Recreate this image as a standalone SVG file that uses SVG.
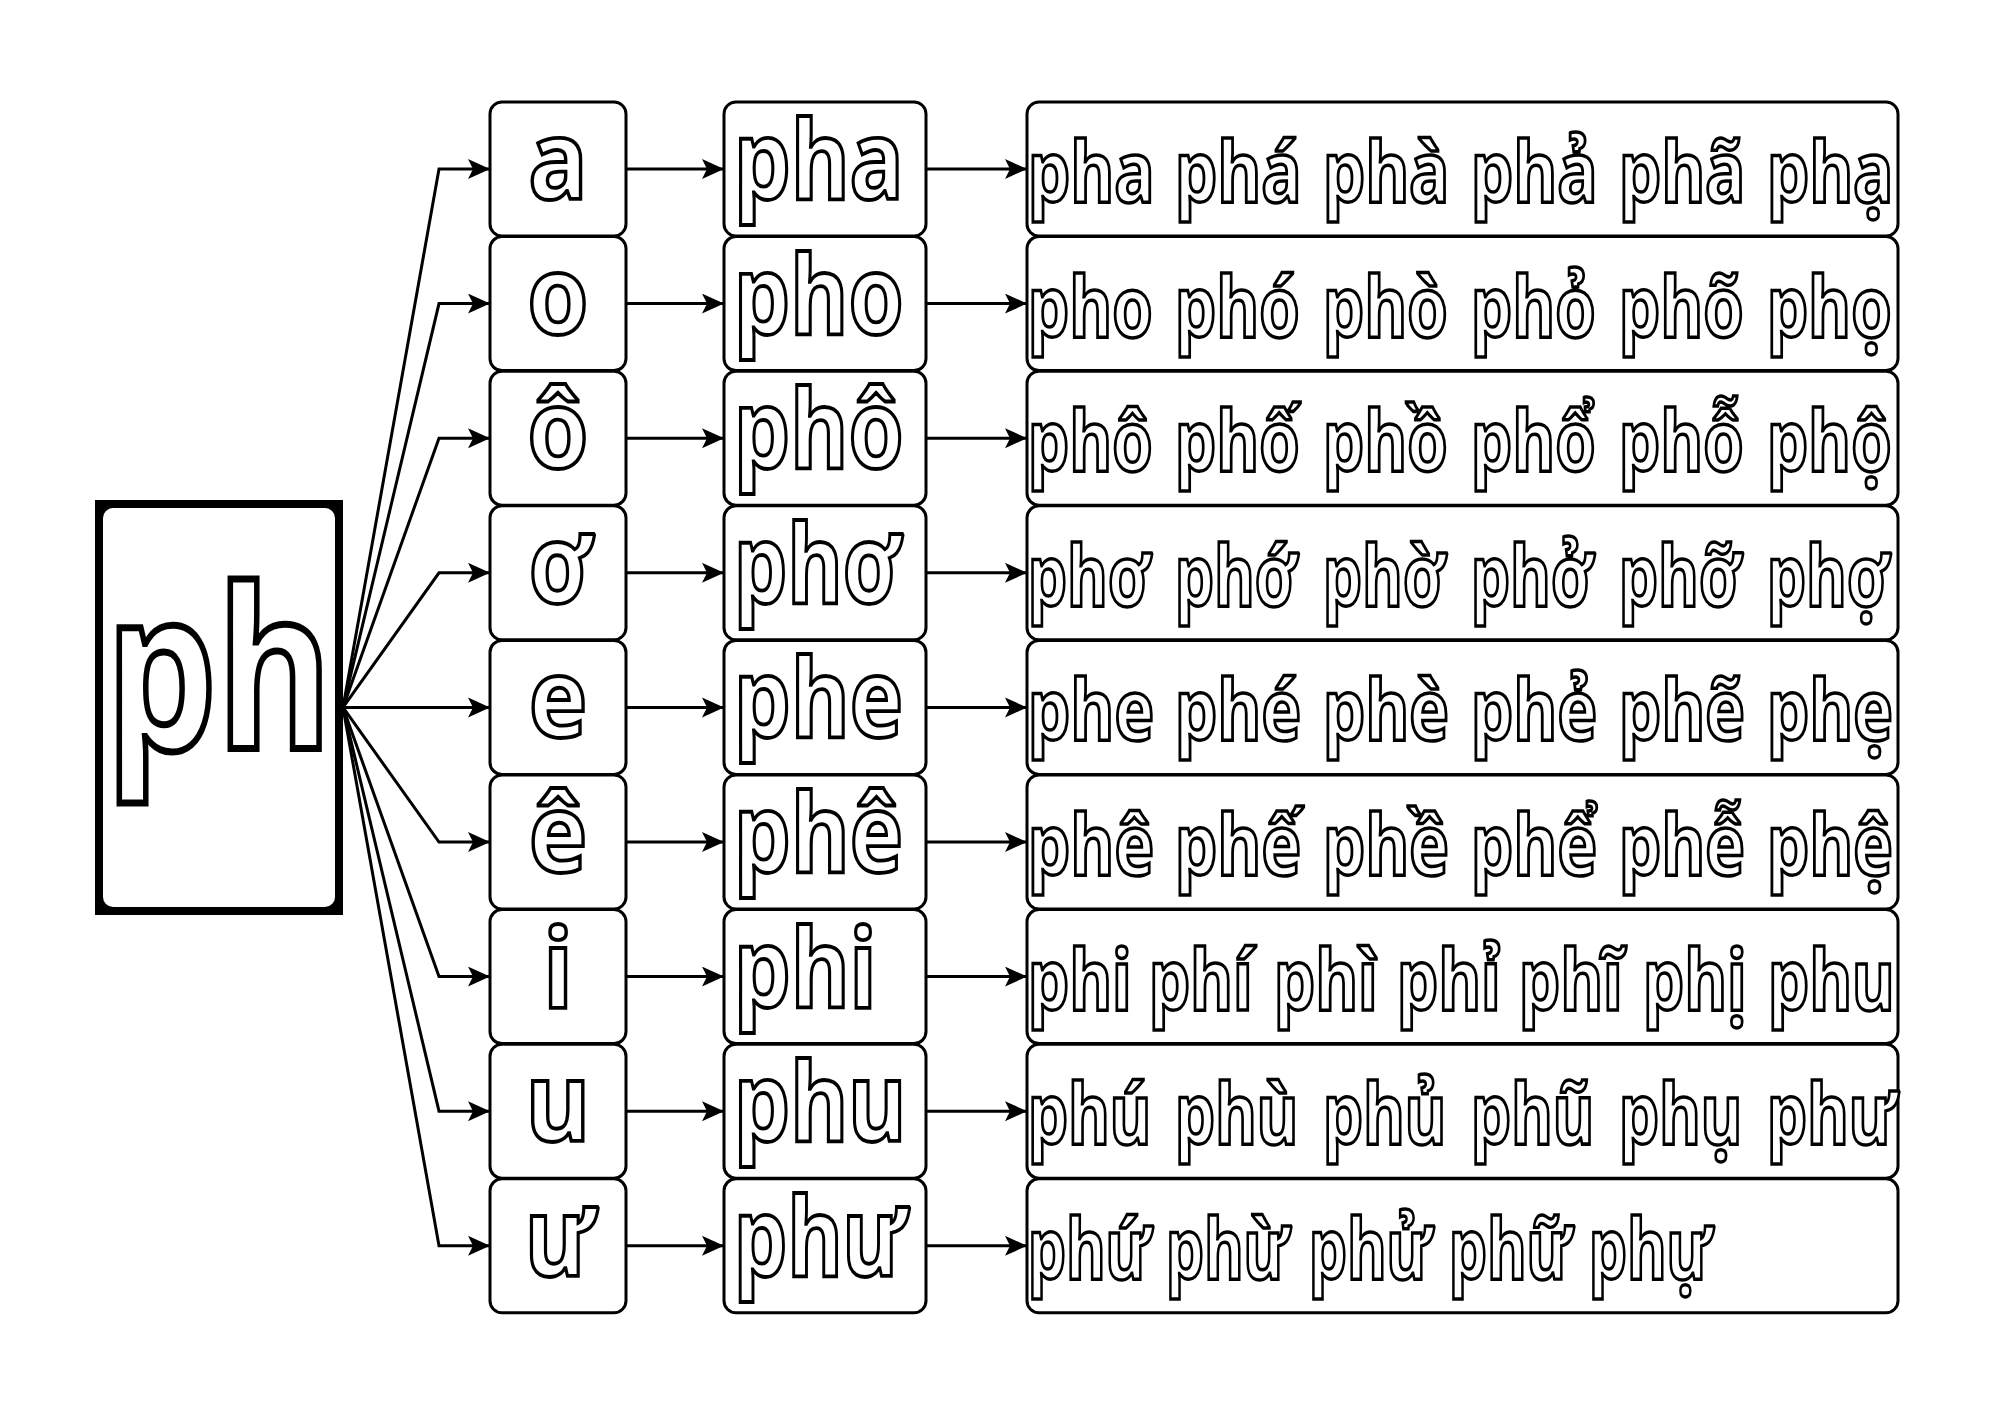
<svg xmlns="http://www.w3.org/2000/svg" width="2000" height="1414" viewBox="0 0 2000 1414">
<defs>
<style>
.box{fill:#fff;stroke:#000;stroke-width:3}
.t{font-family:"Noto Sans","Open Sans",sans-serif;font-weight:700;fill:#fff;stroke:#000;stroke-linejoin:miter}
.v{font-size:110px;stroke-width:3.8}
.s{font-size:110px;stroke-width:3.8}
.l{font-size:84px;stroke-width:3.5}
.c{fill:none;stroke:#000;stroke-width:3}
</style>
<marker id="arr" markerUnits="userSpaceOnUse" markerWidth="24" markerHeight="22" refX="22" refY="10" orient="auto">
<path d="M0,0 L22,10 L0,20 L5,10 Z" fill="#000"/>
</marker>
</defs>
<rect width="2000" height="1414" fill="#fff"/>

<g id="connectors">
<polyline class="c" marker-end="url(#arr)" points="343,707.4 439,169 490,169"/>
<polyline class="c" marker-end="url(#arr)" points="343,707.4 439,303.6 490,303.6"/>
<polyline class="c" marker-end="url(#arr)" points="343,707.4 439,438.2 490,438.2"/>
<polyline class="c" marker-end="url(#arr)" points="343,707.4 439,572.8 490,572.8"/>
<polyline class="c" marker-end="url(#arr)" points="343,707.4 490,707.4"/>
<polyline class="c" marker-end="url(#arr)" points="343,707.4 439,842 490,842"/>
<polyline class="c" marker-end="url(#arr)" points="343,707.4 439,976.6 490,976.6"/>
<polyline class="c" marker-end="url(#arr)" points="343,707.4 439,1111.2 490,1111.2"/>
<polyline class="c" marker-end="url(#arr)" points="343,707.4 439,1245.8 490,1245.8"/>

<line class="c" marker-end="url(#arr)" x1="626" y1="169" x2="724" y2="169"/>
<line class="c" marker-end="url(#arr)" x1="626" y1="303.6" x2="724" y2="303.6"/>
<line class="c" marker-end="url(#arr)" x1="626" y1="438.2" x2="724" y2="438.2"/>
<line class="c" marker-end="url(#arr)" x1="626" y1="572.8" x2="724" y2="572.8"/>
<line class="c" marker-end="url(#arr)" x1="626" y1="707.4" x2="724" y2="707.4"/>
<line class="c" marker-end="url(#arr)" x1="626" y1="842" x2="724" y2="842"/>
<line class="c" marker-end="url(#arr)" x1="626" y1="976.6" x2="724" y2="976.6"/>
<line class="c" marker-end="url(#arr)" x1="626" y1="1111.2" x2="724" y2="1111.2"/>
<line class="c" marker-end="url(#arr)" x1="626" y1="1245.8" x2="724" y2="1245.8"/>

<line class="c" marker-end="url(#arr)" x1="926" y1="169" x2="1027" y2="169"/>
<line class="c" marker-end="url(#arr)" x1="926" y1="303.6" x2="1027" y2="303.6"/>
<line class="c" marker-end="url(#arr)" x1="926" y1="438.2" x2="1027" y2="438.2"/>
<line class="c" marker-end="url(#arr)" x1="926" y1="572.8" x2="1027" y2="572.8"/>
<line class="c" marker-end="url(#arr)" x1="926" y1="707.4" x2="1027" y2="707.4"/>
<line class="c" marker-end="url(#arr)" x1="926" y1="842" x2="1027" y2="842"/>
<line class="c" marker-end="url(#arr)" x1="926" y1="976.6" x2="1027" y2="976.6"/>
<line class="c" marker-end="url(#arr)" x1="926" y1="1111.2" x2="1027" y2="1111.2"/>
<line class="c" marker-end="url(#arr)" x1="926" y1="1245.8" x2="1027" y2="1245.8"/>
</g>

<g id="node-ph">
<rect x="95" y="500" width="248" height="415" fill="#000"/>
<rect x="103" y="508" width="232" height="399" rx="10" fill="#fff"/>
<text class="t" style="font-size:222px;stroke-width:7" text-anchor="middle" transform="translate(219,749) scale(0.79,1)">ph</text>
</g>

<g id="vowels">
<g id="v-a"><rect class="box" x="490" y="102" width="136" height="134" rx="12"/><text class="t v" text-anchor="middle" transform="translate(558,199) scale(0.9,1)">a</text></g>
<g id="v-o"><rect class="box" x="490" y="236.6" width="136" height="134" rx="12"/><text class="t v" text-anchor="middle" transform="translate(558,333.6) scale(0.9,1)">o</text></g>
<g id="v-oo"><rect class="box" x="490" y="371.2" width="136" height="134" rx="12"/><text class="t v" text-anchor="middle" transform="translate(558,468.2) scale(0.9,1)">ô</text></g>
<g id="v-ow"><rect class="box" x="490" y="505.8" width="136" height="134" rx="12"/><text class="t v" text-anchor="middle" transform="translate(560,602.8) scale(0.84,1)">ơ</text></g>
<g id="v-e"><rect class="box" x="490" y="640.4" width="136" height="134" rx="12"/><text class="t v" text-anchor="middle" transform="translate(558,737.4) scale(0.9,1)">e</text></g>
<g id="v-ee"><rect class="box" x="490" y="775" width="136" height="134" rx="12"/><text class="t v" text-anchor="middle" transform="translate(558,872) scale(0.9,1)">ê</text></g>
<g id="v-i"><rect class="box" x="490" y="909.6" width="136" height="134" rx="12"/><text class="t v" text-anchor="middle" transform="translate(558,1006.6) scale(0.9,1)">i</text></g>
<g id="v-u"><rect class="box" x="490" y="1044.2" width="136" height="134" rx="12"/><text class="t v" text-anchor="middle" transform="translate(558,1141.2) scale(0.9,1)">u</text></g>
<g id="v-uw"><rect class="box" x="490" y="1178.8" width="136" height="134" rx="12"/><text class="t v" text-anchor="middle" transform="translate(560,1275.8) scale(0.84,1)">ư</text></g>
</g>

<g id="syllables">
<g id="s-pha"><rect class="box" x="724" y="102" width="202" height="134" rx="12"/><text class="t s" transform="translate(734,199) scale(0.82,1)">pha</text></g>
<g id="s-pho"><rect class="box" x="724" y="236.6" width="202" height="134" rx="12"/><text class="t s" transform="translate(734,333.6) scale(0.81,1)">pho</text></g>
<g id="s-phoo"><rect class="box" x="724" y="371.2" width="202" height="134" rx="12"/><text class="t s" transform="translate(734,468.2) scale(0.81,1)">phô</text></g>
<g id="s-phow"><rect class="box" x="724" y="505.8" width="202" height="134" rx="12"/><text class="t s" transform="translate(734,602.8) scale(0.77,1)">phơ</text></g>
<g id="s-phe"><rect class="box" x="724" y="640.4" width="202" height="134" rx="12"/><text class="t s" transform="translate(734,737.4) scale(0.82,1)">phe</text></g>
<g id="s-phee"><rect class="box" x="724" y="775" width="202" height="134" rx="12"/><text class="t s" transform="translate(734,872) scale(0.82,1)">phê</text></g>
<g id="s-phi"><rect class="box" x="724" y="909.6" width="202" height="134" rx="12"/><text class="t s" transform="translate(734,1006.6) scale(0.82,1)">phi</text></g>
<g id="s-phu"><rect class="box" x="724" y="1044.2" width="202" height="134" rx="12"/><text class="t s" transform="translate(734,1141.2) scale(0.81,1)">phu</text></g>
<g id="s-phuw"><rect class="box" x="724" y="1178.8" width="202" height="134" rx="12"/><text class="t s" transform="translate(734,1275.8) scale(0.77,1)">phư</text></g>
</g>

<g id="lists">
<g id="l-a"><rect class="box" x="1027" y="102" width="871" height="134" rx="12"/><text class="t l" transform="translate(1028,202) scale(0.8,1)"><tspan x="0">pha</tspan><tspan x="183.75">phá</tspan><tspan x="368.75">phà</tspan><tspan x="553.75">phả</tspan><tspan x="738.75">phã</tspan><tspan x="923.75">phạ</tspan></text></g>
<g id="l-o"><rect class="box" x="1027" y="236.6" width="871" height="134" rx="12"/><text class="t l" transform="translate(1028,336.6) scale(0.78,1)"><tspan x="0">pho</tspan><tspan x="188.5">phó</tspan><tspan x="378.2">phò</tspan><tspan x="568">phỏ</tspan><tspan x="757.7">phõ</tspan><tspan x="947.4">phọ</tspan></text></g>
<g id="l-oo"><rect class="box" x="1027" y="371.2" width="871" height="134" rx="12"/><text class="t l" transform="translate(1028,471.2) scale(0.78,1)"><tspan x="0">phô</tspan><tspan x="188.5">phố</tspan><tspan x="378.2">phồ</tspan><tspan x="568">phổ</tspan><tspan x="757.7">phỗ</tspan><tspan x="947.4">phộ</tspan></text></g>
<g id="l-ow"><rect class="box" x="1027" y="505.8" width="871" height="134" rx="12"/><text class="t l" transform="translate(1028,605.8) scale(0.74,1)"><tspan x="0">phơ</tspan><tspan x="198.6">phớ</tspan><tspan x="398.6">phờ</tspan><tspan x="598.6">phở</tspan><tspan x="798.6">phỡ</tspan><tspan x="998.6">phợ</tspan></text></g>
<g id="l-e"><rect class="box" x="1027" y="640.4" width="871" height="134" rx="12"/><text class="t l" transform="translate(1028,740.4) scale(0.8,1)"><tspan x="0">phe</tspan><tspan x="183.75">phé</tspan><tspan x="368.75">phè</tspan><tspan x="553.75">phẻ</tspan><tspan x="738.75">phẽ</tspan><tspan x="923.75">phẹ</tspan></text></g>
<g id="l-ee"><rect class="box" x="1027" y="775" width="871" height="134" rx="12"/><text class="t l" transform="translate(1028,875) scale(0.8,1)"><tspan x="0">phê</tspan><tspan x="183.75">phế</tspan><tspan x="368.75">phề</tspan><tspan x="553.75">phể</tspan><tspan x="738.75">phễ</tspan><tspan x="923.75">phệ</tspan></text></g>
<g id="l-i"><rect class="box" x="1027" y="909.6" width="871" height="134" rx="12"/><text class="t l" transform="translate(1028,1009.6) scale(0.78,1)"><tspan x="0">phi</tspan><tspan x="155.1">phí</tspan><tspan x="315.4">phì</tspan><tspan x="473.1">phỉ</tspan><tspan x="629.5">phĩ</tspan><tspan x="788.5">phị</tspan><tspan x="948.7">phu</tspan></text></g>
<g id="l-u"><rect class="box" x="1027" y="1044.2" width="871" height="134" rx="12"/><text class="t l" transform="translate(1028,1144.2) scale(0.76,1)"><tspan x="0">phú</tspan><tspan x="193.4">phù</tspan><tspan x="388.2">phủ</tspan><tspan x="582.9">phũ</tspan><tspan x="777.6">phụ</tspan><tspan x="972.4">phư</tspan></text></g>
<g id="l-uw"><rect class="box" x="1027" y="1178.8" width="871" height="134" rx="12"/><text class="t l" transform="translate(1028,1278.8) scale(0.72,1)"><tspan x="0">phứ</tspan><tspan x="191.7">phừ</tspan><tspan x="390.3">phử</tspan><tspan x="584.7">phữ</tspan><tspan x="779.2">phự</tspan></text></g>
</g>
</svg>
